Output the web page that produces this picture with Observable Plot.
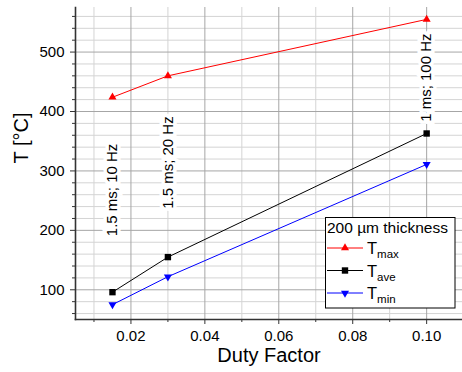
<!DOCTYPE html>
<html>
<head>
<meta charset="utf-8">
<script src="https://cdn.jsdelivr.net/npm/d3@7"></script>
<script src="https://cdn.jsdelivr.net/npm/@observablehq/plot@0.6"></script>
<style>
  html, body { margin: 0; padding: 0; background: #fff; }
  svg { display: block; }
</style>
</head>
<body>
<div id="chart"></div>
<script>
// ---- data ----
const dutyFactor = [0.015, 0.03, 0.10];
const tMax = [424, 460, 555];
const tAve = [96, 155, 363];
const tMin = [75, 122, 311];

const annX = [0.015, 0.03, 0.10];
const annY = [268, 314, 457];
const annText = ["1.5 ms; 10 Hz", "1.5 ms; 20 Hz", "1 ms; 100 Hz"];

const xDomain = [0.005, 0.1097];
const yDomain = [50, 575];
const xMajor = [0.02, 0.04, 0.06, 0.08, 0.10];
const xMinor = [0.01, 0.03, 0.05, 0.07, 0.09];
const yMajor = [100, 200, 300, 400, 500];
const yMinor = [60, 80, 120, 140, 160, 180, 220, 240, 260, 280, 320, 340, 360, 380, 420, 440, 460, 480, 520, 540, 560];

const xTitle = "Duty Factor";
const yTitle = "T [°C]";
const legendTitle = "200 µm thickness";
const legendNames = ["max", "ave", "min"];
const seriesColors = ["#ff0000", "#000000", "#0000ff"];

// ---- build table ----
const series = [tMax, tAve, tMin];
const rows = [];
series.forEach((vals, s) => vals.forEach((v, i) => rows.push({x: dutyFactor[i], y: v, s})));
const anns = annX.map((x, i) => ({x, y: annY[i], text: annText[i]}));

const triangleDown = {
  draw(ctx, size) {
    const y = -Math.sqrt(size / (Math.sqrt(3) * 3));
    ctx.moveTo(0, -y * 2);
    ctx.lineTo(-Math.sqrt(3) * y, y);
    ctx.lineTo(Math.sqrt(3) * y, y);
    ctx.closePath();
  }
};
const symbols = [d3.symbolTriangle, d3.symbolSquare, triangleDown];
const radii = [3, 3.6, 3];

const marks = [
  Plot.gridY(yMinor, {stroke: "#d4d4d4", strokeOpacity: 1, strokeWidth: 1}),
  Plot.gridX(xMinor, {stroke: "#d4d4d4", strokeOpacity: 1, strokeWidth: 1}),
  Plot.gridY(yMajor, {stroke: "#a6a6a6", strokeOpacity: 1, strokeWidth: 1}),
  Plot.gridX(xMajor, {stroke: "#a6a6a6", strokeOpacity: 1, strokeWidth: 1}),
  Plot.axisY(yMinor, {tickSize: 3, text: null, label: null, stroke: "#333"}),
  Plot.axisX(xMinor, {tickSize: 3, text: null, label: null, stroke: "#333"}),
  Plot.axisY(yMajor, {tickSize: 5, tickPadding: 6, fontSize: 15, stroke: "#333", label: null}),
  Plot.axisX(xMajor, {tickSize: 5, tickPadding: 6, fontSize: 15, stroke: "#333",
    tickFormat: d => d.toFixed(2), label: null}),
  Plot.frame({anchor: "left", stroke: "#333", strokeWidth: 1.6}),
  Plot.frame({anchor: "bottom", stroke: "#333", strokeWidth: 1.6}),
  Plot.text([yTitle], {frameAnchor: "left", dx: -54, rotate: -90, fontSize: 20, fill: "#000"}),
  Plot.text([xTitle], {frameAnchor: "bottom", dy: 42, fontSize: 20, fill: "#000"}),
  Plot.text(anns, {x: "x", y: "y", text: "text", rotate: -90, fontSize: 15, fill: "#000",
    stroke: "#fff", strokeWidth: 7, strokeLinejoin: "miter"})
];
series.forEach((vals, s) => {
  const data = rows.filter(d => d.s === s);
  marks.push(Plot.line(data, {x: "x", y: "y", stroke: seriesColors[s], strokeWidth: 1}));
  marks.push(Plot.dot(data, {x: "x", y: "y", fill: seriesColors[s], stroke: "none", symbol: symbols[s], r: radii[s]}));
});

const plot = Plot.plot({
  width: 462,
  height: 372,
  marginLeft: 75,
  marginRight: 0,
  marginTop: 7,
  marginBottom: 53,
  style: {fontFamily: "'Liberation Sans', Arial, sans-serif", fontSize: "15px", color: "#000", background: "#fff"},
  x: {domain: xDomain},
  y: {domain: yDomain},
  marks
});

// ---- legend ----
const svg = d3.select(plot);
const lg = svg.append("g").attr("font-family", "'Liberation Sans', Arial, sans-serif").attr("text-anchor", "start");
lg.append("rect").attr("x", 325.5).attr("y", 217.5).attr("width", 129.5).attr("height", 90.5)
  .attr("fill", "#fff").attr("stroke", "#000").attr("stroke-width", 1);
lg.append("text").attr("x", 327).attr("y", 233).attr("font-size", 15.5).attr("fill", "#000").text(legendTitle);
const rowY = [248, 270.5, 293];
legendNames.forEach((name, i) => {
  const y = rowY[i];
  lg.append("line").attr("x1", 327).attr("x2", 363).attr("y1", y).attr("y2", y)
    .attr("stroke", seriesColors[i]).attr("stroke-width", 1);
  lg.append("path").attr("d", d3.symbol(symbols[i], Math.PI * radii[i] * radii[i])())
    .attr("transform", `translate(345,${y})`).attr("fill", seriesColors[i]);
  const t = lg.append("text").attr("x", 367).attr("y", y + 6).attr("font-size", 16.5).attr("fill", "#000");
  t.append("tspan").text("T");
  t.append("tspan").attr("font-size", 11.5).attr("dy", 4).text(name);
});

document.getElementById("chart").appendChild(plot);
</script>
</body>
</html>
